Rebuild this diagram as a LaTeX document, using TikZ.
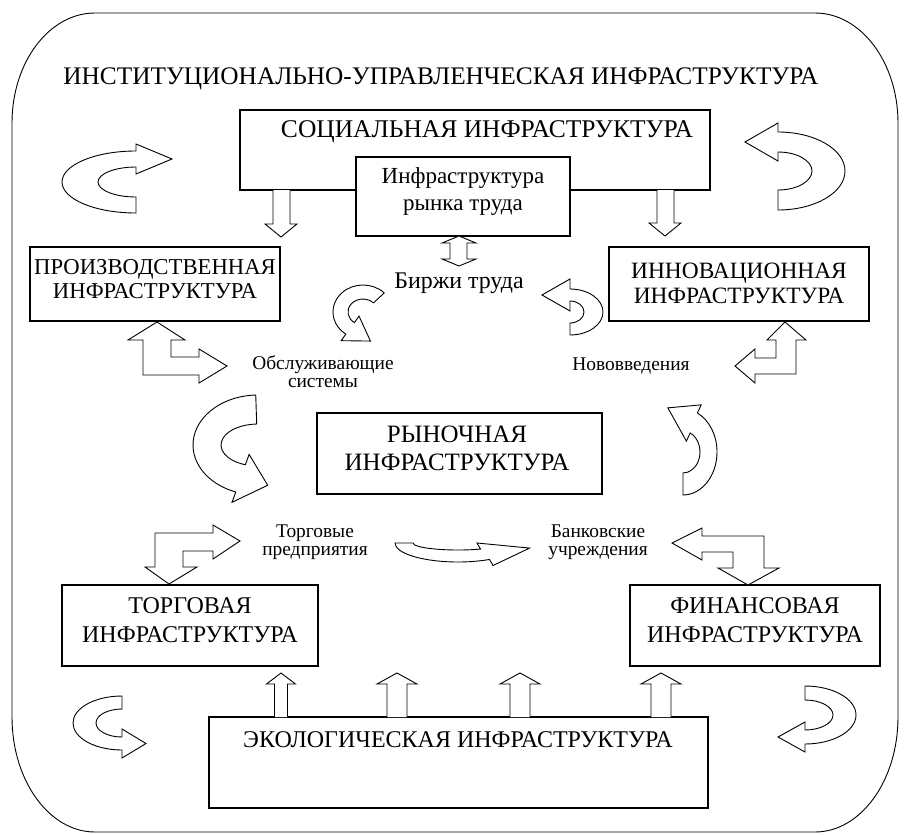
\documentclass[tikz,border=0pt]{standalone}
\usepackage{fontspec}
\setmainfont{Liberation Serif}
\def\hext{8}
\newcommand\bandarrow[9]{%
  \pgfmathsetmacro\bmx{(#3+#5)/2}%
  \pgfmathsetmacro\bmy{(#4+#6)/2}%
  \pgfmathsetmacro\bs{((#8)>(#7))?1:-1}%
  \pgfmathsetmacro\btx{-(\bmx)*sin(#8)}%
  \pgfmathsetmacro\bty{(\bmy)*cos(#8)}%
  \pgfmathsetmacro\btn{sqrt((\btx)*(\btx)+(\bty)*(\bty))}%
  \pgfmathsetmacro\tipx{#1+(\bmx)*cos(#8)+(\bs)*(#9)*(\btx)/(\btn)}%
  \pgfmathsetmacro\tipy{#2+(\bmy)*sin(#8)+(\bs)*(#9)*(\bty)/(\btn)}%
  \draw[band] ({#1+(#3)*cos(#7)},{#2+(#4)*sin(#7)})
     arc[start angle=#7,end angle=#8,x radius=#3,y radius=#4]
     -- ({#1+(#3+\hext)*cos(#8)},{#2+(#4+\hext)*sin(#8)})
     -- (\tipx,\tipy)
     -- ({#1+(#5-\hext)*cos(#8)},{#2+(#6-\hext)*sin(#8)})
     -- ({#1+(#5)*cos(#8)},{#2+(#6)*sin(#8)})
     arc[start angle=#8,end angle=#7,x radius=#5,y radius=#6]
     -- cycle;}
\begin{document}
\begin{tikzpicture}[x=1pt,y=-1pt,
  box/.style={draw, fill=white, line width=1.2pt, inner sep=0pt},
  band/.style={draw, fill=white, line width=0.9pt, line join=miter},
  bigtxt/.style={font=\fontsize{#1}{#1}\selectfont, inner sep=0pt, anchor=base},
  bigtxt/.default=24,
  smtxt/.style={font=\fontsize{19.4}{20}\selectfont, inner sep=0pt, anchor=base}]
\useasboundingbox (0,0) rectangle (905,835);
% outer frame
\draw[line width=0.9pt] (12,123) -- (12,717)
  arc[start angle=180,end angle=90,x radius=83,y radius=115] -- (815,832)
  arc[start angle=90,end angle=0,x radius=83,y radius=115] -- (898,123)
  arc[start angle=0,end angle=-90,x radius=83,y radius=110] -- (95,13)
  arc[start angle=-90,end angle=-180,x radius=83,y radius=110] -- cycle;
\node[bigtxt=25.3] (title) at (441,84) {ИНСТИТУЦИОНАЛЬНО-УПРАВЛЕНЧЕСКАЯ ИНФРАСТРУКТУРА};
% boxes
\node[box, minimum width=470pt, minimum height=80pt] (soc) at (475,150) {};
\node[bigtxt=25.5] (soct) at (487,137) {СОЦИАЛЬНАЯ ИНФРАСТРУКТУРА};
\node[box, minimum width=214pt, minimum height=79pt] (lab) at (463,196.5) {};
\node[bigtxt=23] (lab1) at (463,183) {Инфраструктура};
\node[bigtxt=23] (lab2) at (463,210) {рынка труда};
\node[box, minimum width=250pt, minimum height=74pt] (prod) at (155,284) {};
\node[bigtxt=22.7] (prod1) at (155,274) {ПРОИЗВОДСТВЕННАЯ};
\node[bigtxt=22.7] (prod2) at (155,298) {ИНФРАСТРУКТУРА};
\node[box, minimum width=260pt, minimum height=74pt] (inno) at (739,284) {};
\node[bigtxt=23.4] (inno1) at (739,278) {ИННОВАЦИОННАЯ};
\node[bigtxt=23.4] (inno2) at (739,303) {ИНФРАСТРУКТУРА};
\node[box, minimum width=285pt, minimum height=81pt] (mkt) at (459.5,453.5) {};
\node[bigtxt=25] (mkt1) at (457,442) {РЫНОЧНАЯ};
\node[bigtxt=25] (mkt2) at (457,470) {ИНФРАСТРУКТУРА};
\node[box, minimum width=256pt, minimum height=81pt] (trade) at (190,625.5) {};
\node[bigtxt] (trade1) at (190,613) {ТОРГОВАЯ};
\node[bigtxt] (trade2) at (190,642) {ИНФРАСТРУКТУРА};
\node[box, minimum width=250pt, minimum height=81pt] (fin) at (755,625.5) {};
\node[bigtxt] (fin1) at (755,613) {ФИНАНСОВАЯ};
\node[bigtxt] (fin2) at (755,642) {ИНФРАСТРУКТУРА};
\node[box, minimum width=499pt, minimum height=91pt] (eco) at (458.5,762.5) {};
\node[bigtxt] (ecot) at (458,747) {ЭКОЛОГИЧЕСКАЯ ИНФРАСТРУКТУРА};
% small labels
\node[bigtxt=23.9] (birzh) at (459,288) {Биржи труда};
\node[smtxt] (obs1) at (323,369) {Обслуживающие};
\node[smtxt] (obs2) at (323,387) {системы};
\node[smtxt] (nov) at (631,370) {Нововведения};
\node[smtxt] (tor1) at (315,537) {Торговые};
\node[smtxt] (tor2) at (315,555) {предприятия};
\node[smtxt] (ban1) at (598,537) {Банковские};
\node[smtxt] (ban2) at (598,555) {учреждения};
% straight block arrows
\draw[band] (273,190) -- (273,224) -- (265,224) -- (281,237) -- (297,224) -- (290,224) -- (290,190);
\draw[band] (657,190) -- (657,223) -- (649,223) -- (665,236) -- (681,223) -- (674,223) -- (674,190);
\draw[band] (459,236) -- (476,243) -- (467,243) -- (467,259) -- (476,259) -- (459,266)
  -- (442,259) -- (450,259) -- (450,243) -- (442,243) -- cycle;
\draw[band] (274.5,717) -- (274.5,684) -- (266.5,684) -- (281,673) -- (295.5,684) -- (287.5,684) -- (287.5,717);
\foreach \cx in {397,520,661}{
  \draw[band] (\cx-10,717) -- (\cx-10,684) -- (\cx-20,684) -- (\cx,673) -- (\cx+20,684) -- (\cx+10,684) -- (\cx+10,717);}
% L-shaped double arrows
\draw[band] (157,322) -- (185,340) -- (171,340) -- (171,357) -- (199,357) -- (199,349) -- (227,366)
  -- (199,383) -- (199,375) -- (143,375) -- (143,340) -- (128,340) -- cycle;
\draw[band] (785,322) -- (806,340) -- (796,340) -- (796,374) -- (755,374) -- (755,383) -- (735,366)
  -- (755,349) -- (755,358) -- (776,358) -- (776,340) -- (767,340) -- cycle;
\draw[band] (240,541) -- (213,559) -- (213,551) -- (183,551) -- (183,567) -- (197,567) -- (169,584)
  -- (145,567) -- (155,567) -- (155,533) -- (213,533) -- (213,525) -- cycle;
\draw[band] (672,543) -- (702,528) -- (702,536) -- (764,536) -- (764,568) -- (779,568) -- (748,585)
  -- (718,568) -- (733,568) -- (733,552) -- (702,552) -- (702,560) -- cycle;
% curved block arrows
\def\hext{7}\bandarrow{136}{182}{74}{31}{38}{15}{90}{270}{36}
\def\hext{9}\bandarrow{778}{171}{67}{39}{34}{19}{90}{-90}{33}
\def\hext{8}\bandarrow{363}{312}{30}{27}{15}{13}{-45}{-235}{24}
\def\hext{10}\bandarrow{570}{312}{33}{23}{14}{11}{90}{-90}{28}
\def\hext{11}\bandarrow{258}{445}{65}{50}{37}{21}{268}{110}{28}
\def\hext{9}\bandarrow{683}{452}{34}{43}{17}{21}{90}{-65}{30}
\def\hext{7}\bandarrow{458}{543}{63}{19}{45}{7}{180}{60}{45}
\def\hext{8}\bandarrow{122}{723}{49}{27}{26}{14}{270}{90}{24}
\def\hext{8}\bandarrow{805}{715}{51}{29}{28}{15}{-90}{90}{27}
\end{tikzpicture}
\end{document}
